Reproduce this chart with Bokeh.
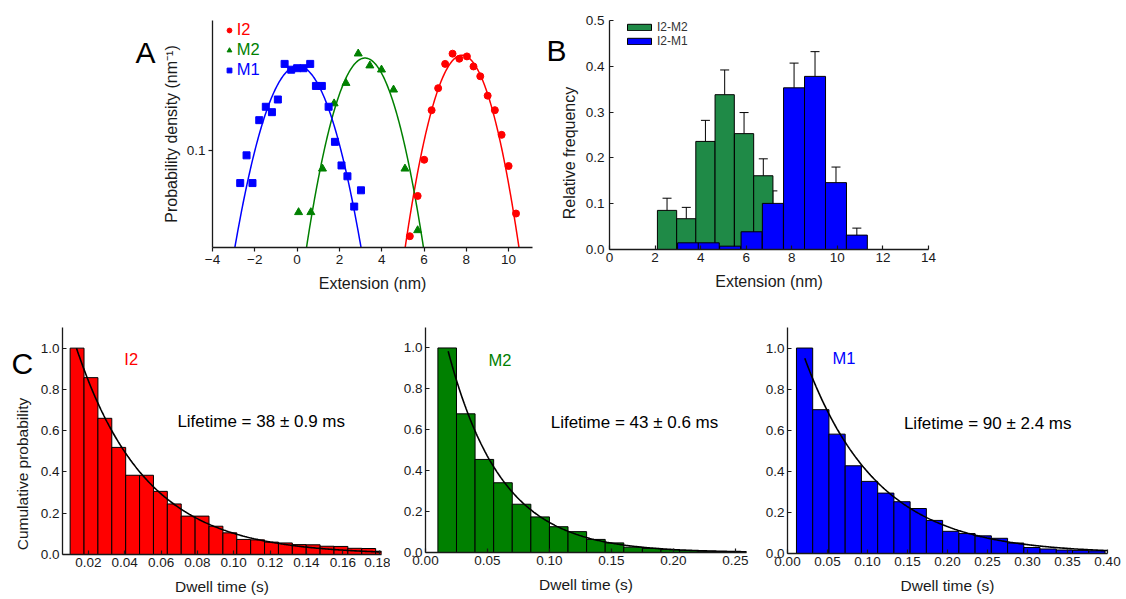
import numpy as np
from bokeh.plotting import figure
from bokeh.layouts import column, row
from bokeh.models import (Legend, LegendItem, Label, FixedTicker, NumeralTickFormatter,
                          Whisker, TeeHead, ColumnDataSource, Range1d)
from bokeh.embed import file_html
from bokeh.resources import INLINE

FONT = "Liberation Sans"
INK = "#1a1a1a"

# ---------------- Panel A data (extension distributions, log density) ----------------
a_i2_x = [5.33, 5.70, 6.01, 6.36, 6.67, 7.00, 7.35, 7.67, 8.03, 8.34, 8.66, 9.01, 9.35, 9.67, 10.00, 10.35]
a_i2_y = [0.0347, 0.057, 0.089, 0.164, 0.215, 0.290, 0.329, 0.309, 0.318, 0.281, 0.249, 0.196, 0.164, 0.121, 0.0824, 0.0459]
a_m2_x = [0.07, 0.65, 1.20, 1.75, 2.31, 2.89, 3.44, 3.99, 4.56, 5.10, 5.70]
a_m2_y = [0.0466, 0.0466, 0.0797, 0.178, 0.229, 0.329, 0.284, 0.270, 0.211, 0.0797, 0.0373]
a_m1_x = [-2.69, -2.39, -2.11, -1.79, -1.48, -1.19, -0.91, -0.59, -0.28, 0.00, 0.30, 0.62, 0.89, 1.17, 1.49, 1.79, 2.10, 2.38, 2.70, 3.02]
a_m1_y = [0.0668, 0.094, 0.0668, 0.145, 0.171, 0.160, 0.187, 0.290, 0.270, 0.275, 0.275, 0.290, 0.221, 0.221, 0.171, 0.111, 0.083, 0.0726, 0.050, 0.0611]
a_fit_names = ["I2", "M2", "M1"]
a_fit_mu = [7.80, 3.21, 0.04]
a_fit_sigma = [1.236, 1.28, 1.41]
a_xticks = [-4, -2, 0, 2, 4, 6, 8, 10]
a_yticks = [0.1]

# ---------------- Panel B data (relative frequency histograms) ----------------
b_m2_centers = [2.525, 3.37, 4.21, 5.055, 5.905, 6.75]
b_m2_width = 0.845
b_m2_vals = [0.0854, 0.0672, 0.236, 0.338, 0.253, 0.161]
b_m2_err = [0.0266, 0.0248, 0.046, 0.054, 0.046, 0.037]
b_m1_centers = [3.45, 4.355, 5.295, 6.235, 7.17, 8.10, 9.02, 9.94, 10.855]
b_m1_width = 0.922
b_m1_vals = [0.0146, 0.0146, 0.0073, 0.0387, 0.1007, 0.353, 0.378, 0.146, 0.0314]
b_m1_err = [0.0124, 0.0124, 0.0087, 0.0168, 0.0273, 0.054, 0.054, 0.034, 0.0153]
b_xticks = [0, 2, 4, 6, 8, 10, 12, 14]
b_yticks = [0.0, 0.1, 0.2, 0.3, 0.4, 0.5]

# ---------------- Panel C data (cumulative dwell-time histograms) ----------------
c1_start, c1_width = 0.0100, 0.00764
c1_vals = [1.0, 0.857, 0.660, 0.519, 0.384, 0.384, 0.306, 0.245, 0.186, 0.186, 0.137, 0.105,
           0.073, 0.071, 0.060, 0.056, 0.048, 0.047, 0.040, 0.039, 0.030, 0.029, 0.016]
c2_start, c2_width = 0.0100, 0.0150
c2_vals = [1.0, 0.678, 0.455, 0.341, 0.236, 0.174, 0.126, 0.102, 0.064, 0.047, 0.026, 0.020,
           0.014, 0.009, 0.006, 0.005, 0.004]
c3_start, c3_width = 0.0112, 0.0203
c3_vals = [1.0, 0.700, 0.581, 0.427, 0.351, 0.294, 0.252, 0.219, 0.161, 0.108, 0.097, 0.086,
           0.074, 0.051, 0.029, 0.022, 0.017, 0.015, 0.013]
c_fit_t0 = [0.0135, 0.0183, 0.0216]
c_fit_y0 = [1.0, 0.984, 0.95]
c_fit_tau = [0.038, 0.043, 0.090]
c_names = ["I2", "M2", "M1"]
c_lifetimes = ["Lifetime = 38 ± 0.9 ms", "Lifetime = 43 ± 0.6 ms", "Lifetime = 90 ± 2.4 ms"]
c1_xticks = [0.02, 0.04, 0.06, 0.08, 0.10, 0.12, 0.14, 0.16, 0.18]
c2_xticks = [0.00, 0.05, 0.10, 0.15, 0.20, 0.25]
c3_xticks = [0.00, 0.05, 0.10, 0.15, 0.20, 0.25, 0.30, 0.35, 0.40]
c_yticks = [0.0, 0.2, 0.4, 0.6, 0.8, 1.0]

RED, GREEN, BLUE = "#ff0000", "#008000", "#0000ff"
B_GREEN = "#1f8a47"


def make_fig(fw, fh, left, right, top, bottom, xr, yr, y_type="linear"):
    p = figure(frame_width=fw, frame_height=fh, min_border_left=left, min_border_right=right,
               min_border_top=top, min_border_bottom=bottom, x_range=Range1d(*xr),
               y_range=Range1d(*yr), y_axis_type=y_type, output_backend="svg",
               toolbar_location=None)
    p.xgrid.visible = False
    p.ygrid.visible = False
    p.outline_line_color = None
    p.background_fill_color = "white"
    p.border_fill_color = "white"
    return p


def strip_fig(w, h, labels):
    # a blank strip (pixel-sized ranges) holding a panel letter and/or a side title
    p = figure(frame_width=w, frame_height=h, min_border=0, x_range=Range1d(0, w),
               y_range=Range1d(0, h), x_axis_type=None, y_axis_type=None,
               output_backend="svg", toolbar_location=None)
    p.grid.visible = False
    p.outline_line_color = None
    p.background_fill_color = "white"
    p.border_fill_color = "white"
    for kw in labels:
        p.add_layout(Label(text_font=FONT, **kw))
    return p


def letter(text, x, y):
    return dict(x=x, y=y, text=text, text_font_size="30px", text_color="black",
                text_align="left", text_baseline="alphabetic")


def side_title(text, x, y, size):
    return dict(x=x, y=y, text=text, text_font_size=size, text_color=INK, angle=np.pi / 2,
                text_align="center", text_baseline="middle")


def style_axis(ax, ticks, fmt, label, tick_in, tick_size="13.5px", label_size="16px",
               label_standoff=3, axis_label_standoff=8):
    ax.ticker = FixedTicker(ticks=ticks, minor_ticks=[])
    if fmt:
        ax.formatter = NumeralTickFormatter(format=fmt)
    if label:
        ax.axis_label = label
    ax.axis_line_color = INK
    ax.axis_line_width = 1.3
    ax.major_tick_line_color = INK
    ax.major_tick_line_width = 1.2
    ax.minor_tick_line_color = None
    ax.major_tick_in = 4 if tick_in else 0
    ax.major_tick_out = 0 if tick_in else 4
    ax.major_label_text_font = FONT
    ax.major_label_text_font_size = tick_size
    ax.major_label_text_color = INK
    ax.major_label_standoff = label_standoff
    ax.axis_label_text_font = FONT
    ax.axis_label_text_font_size = label_size
    ax.axis_label_text_font_style = "normal"
    ax.axis_label_text_color = INK
    ax.axis_label_standoff = axis_label_standoff


# ================= Panel A =================
pA = make_fig(320, 227, 51, 10, 20, 43, (-4, 11.13), (0.0302, 0.495), y_type="log")
style_axis(pA.xaxis[0], a_xticks, None, "Extension (nm)", tick_in=False)
style_axis(pA.yaxis[0], a_yticks, "0.0", "Probability density (nm⁻¹)", tick_in=False,
           axis_label_standoff=4)

colors = {"I2": RED, "M2": GREEN, "M1": BLUE}
for name, mu, sg in zip(a_fit_names, a_fit_mu, a_fit_sigma):
    xx = np.linspace(mu - 3.3 * sg, mu + 3.3 * sg, 300)
    yy = np.exp(-(xx - mu) ** 2 / (2 * sg ** 2)) / (sg * np.sqrt(2 * np.pi))
    pA.line(xx, yy, line_color=colors[name], line_width=1.5)

r_i2 = pA.scatter(a_i2_x, a_i2_y, marker="circle", size=7, fill_color=RED, line_color=RED)
r_m2 = pA.scatter(a_m2_x, a_m2_y, marker="triangle", size=8, fill_color=GREEN, line_color=GREEN)
r_m1 = pA.scatter(a_m1_x, a_m1_y, marker="square", size=7, fill_color=BLUE, line_color=BLUE)

for lab, rend, col, yloc in [("I2", r_i2, RED, 208.0), ("M2", r_m2, GREEN, 188.0), ("M1", r_m1, BLUE, 168.0)]:
    lg = Legend(items=[LegendItem(label=lab, renderers=[rend])], location=(10.7, yloc),
                padding=0, margin=0, spacing=0, border_line_color=None,
                background_fill_alpha=0, glyph_width=12, glyph_height=16, label_height=16,
                label_standoff=2, label_text_font=FONT, label_text_font_size="16.5px",
                label_text_color=col)
    pA.add_layout(lg)

# ================= Panel B =================
pB = make_fig(319, 229, 29, 200, 18, 43, (0, 14), (0, 0.5))
style_axis(pB.xaxis[0], b_xticks, None, "Extension (nm)", tick_in=True)
style_axis(pB.yaxis[0], b_yticks, "0.0", None, tick_in=True, label_standoff=5)

src_m2 = ColumnDataSource(dict(x=b_m2_centers, top=b_m2_vals,
                               up=[v + e for v, e in zip(b_m2_vals, b_m2_err)]))
src_m1 = ColumnDataSource(dict(x=b_m1_centers, top=b_m1_vals,
                               up=[v + e for v, e in zip(b_m1_vals, b_m1_err)]))
rb_m2 = pB.vbar(x="x", top="top", bottom=0, width=b_m2_width, source=src_m2,
                fill_color=B_GREEN, line_color="black", line_width=1)
pB.add_layout(Whisker(base="x", lower="top", upper="up", source=src_m2, dimension="height",
                      line_color="black", line_width=1, lower_head=None,
                      upper_head=TeeHead(size=9, line_color="black", line_width=1)))
rb_m1 = pB.vbar(x="x", top="top", bottom=0, width=b_m1_width, source=src_m1,
                fill_color=BLUE, line_color="black", line_width=1)
pB.add_layout(Whisker(base="x", lower="top", upper="up", source=src_m1, dimension="height",
                      line_color="black", line_width=1, lower_head=None,
                      upper_head=TeeHead(size=9, line_color="black", line_width=1)))

lgB = Legend(items=[LegendItem(label="I2-M2", renderers=[rb_m2]),
                    LegendItem(label="I2-M1", renderers=[rb_m1])],
             location=(15, 200.7), padding=0, margin=0, spacing=0, border_line_color=None,
             background_fill_alpha=0, glyph_width=30, glyph_height=8, label_height=13,
             label_standoff=3, label_text_font=FONT, label_text_font_size="12px",
             label_text_color="#333333")
pB.add_layout(lgB)

# ================= Panel C =================
def c_panel(fw, fh, left, right, top, bottom, xr, xticks, start, width, vals, color,
            idx, name_xy, life_xy):
    p = make_fig(fw, fh, left, right, top, bottom, xr, (0, 1.1))
    style_axis(p.xaxis[0], xticks, "0.00", "Dwell time (s)", tick_in=True, label_size="15.5px")
    style_axis(p.yaxis[0], c_yticks, "0.0", None, tick_in=True, label_size="15.5px")
    centers = [start + width * (i + 0.5) for i in range(len(vals))]
    p.vbar(x=centers, top=vals, bottom=0, width=width, fill_color=color,
           line_color="black", line_width=1)
    t = np.linspace(c_fit_t0[idx], xr[1], 300)
    p.line(t, c_fit_y0[idx] * np.exp(-(t - c_fit_t0[idx]) / c_fit_tau[idx]),
           line_color="black", line_width=1.6)
    p.add_layout(Label(x=name_xy[0], y=name_xy[1], text=c_names[idx], text_font=FONT,
                       text_font_size="16.5px", text_color=color, text_align="center",
                       text_baseline="middle"))
    p.add_layout(Label(x=life_xy[0], y=life_xy[1], text=c_lifetimes[idx], text_font=FONT,
                       text_font_size="17px", text_color="black", text_align="left",
                       text_baseline="middle"))
    return p


pC1 = c_panel(319, 227, 26, 9, 33, 49, (0.0058, 0.1813), c1_xticks, c1_start, c1_width,
              c1_vals, RED, 0, (0.0436, 0.948), (0.069, 0.644))
pC2 = c_panel(321, 225, 35, 9, 33, 51, (0.0, 0.259), c2_xticks, c2_start, c2_width,
              c2_vals, GREEN, 1, (0.060, 0.943), (0.101, 0.638))
pC3 = c_panel(320, 226, 32, 19, 32, 51, (0.0, 0.40), c3_xticks, c3_start, c3_width,
              c3_vals, BLUE, 2, (0.0706, 0.950), (0.1455, 0.634))

# strips holding panel letters (and the side titles of B and C)
LA = strip_fig(159, 290, [letter("A", 135, 258.3)])
LB = strip_fig(38, 290, [letter("B", 4, 260.5),
                         side_title("Relative frequency", 27, 157.5, "16px")])
LC = strip_fig(36, 309, [letter("C", 11, 273.5),
                         side_title("Cumulative probability", 22, 162.5, "15.5px")])

top_row = row(LA, pA, LB, pB, spacing=0)
bottom_row = row(LC, pC1, pC2, pC3, spacing=0)
layout = column(top_row, bottom_row, spacing=0)
open("out.html", "w").write(file_html(layout, INLINE))
